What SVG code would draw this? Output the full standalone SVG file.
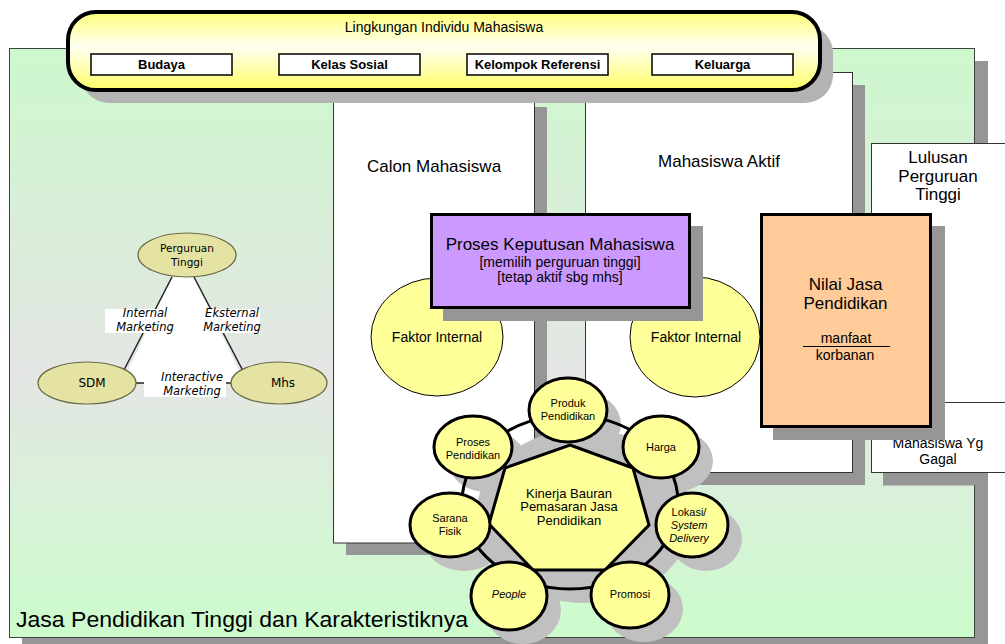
<svg xmlns="http://www.w3.org/2000/svg" width="1005" height="644" viewBox="0 0 1005 644">
<defs>
<linearGradient id="gbg" x1="0" y1="0" x2="0" y2="1">
<stop offset="0" stop-color="#cdf8cd"/><stop offset="0.55" stop-color="#e4e6e4"/><stop offset="1" stop-color="#ccfccc"/>
</linearGradient>
<linearGradient id="gyel" x1="0" y1="0" x2="0" y2="1">
<stop offset="0" stop-color="#ffff7a"/><stop offset="0.45" stop-color="#fffff2"/><stop offset="1" stop-color="#ffff66"/>
</linearGradient>
<style>
.t{font-family:"Liberation Sans",Arial,sans-serif;fill:#000;text-anchor:middle}
.v{font-family:"DejaVu Sans",Verdana,sans-serif;fill:#000;text-anchor:middle}
.sh{fill:#969696}
.csh{fill:#c0c0c0}
.box{fill:#fff;stroke:#333;stroke-width:1}
.sub{fill:#fff;stroke:#000;stroke-width:1.5}
.node{fill:#ffff99;stroke:#000;stroke-width:3}
.tri{fill:#e5e3a3;stroke:#6b6b45;stroke-width:1.2}
.ln{stroke:#222;stroke-width:1.5;fill:none}
</style>
</defs>

<g id="background">
<rect class="sh" x="22" y="61" width="966" height="590"/>
<rect x="9.5" y="48.5" width="965" height="589" fill="url(#gbg)" stroke="#404040" stroke-width="1"/>
<text class="t" x="16" y="627" font-size="22" text-anchor="start" style="text-anchor:start" textLength="452" lengthAdjust="spacingAndGlyphs">Jasa Pendidikan Tinggi dan Karakteristiknya</text>
</g>

<g id="calon-mahasiswa">
<rect class="sh" x="346" y="107" width="201" height="448"/>
<rect class="box" x="333.5" y="94" width="201" height="449"/>
<text class="t" x="434" y="172" font-size="17">Calon Mahasiswa</text>
</g>

<g id="mahasiswa-aktif">
<rect class="sh" x="598" y="85" width="267" height="400"/>
<rect class="box" x="585.5" y="72.5" width="267" height="400"/>
<text class="t" x="719" y="167" font-size="17">Mahasiswa Aktif</text>
</g>

<g id="lulusan">
<rect class="box" x="871.5" y="143.5" width="150" height="259"/>
<text class="t" x="938" y="163" font-size="17">Lulusan</text>
<text class="t" x="938" y="182" font-size="17">Perguruan</text>
<text class="t" x="938" y="200" font-size="17">Tinggi</text>
</g>

<g id="mahasiswa-gagal">
<rect class="sh" x="883" y="472.5" width="105" height="13"/>
<rect class="box" x="871.5" y="402.5" width="150" height="70"/>
<text class="t" x="938" y="448" font-size="14">Mahasiswa Yg</text>
<text class="t" x="938" y="464" font-size="14">Gagal</text>
</g>

<g id="lingkungan">
<rect x="81" y="25" width="752" height="78" rx="28" fill="#b3b3b3"/>
<rect x="68" y="12" width="752" height="78" rx="28" fill="url(#gyel)" stroke="#000" stroke-width="4"/>
<text class="t" x="444" y="32" font-size="14">Lingkungan Individu Mahasiswa</text>
<rect class="sub" x="91" y="54" width="141" height="21"/>
<text class="t" x="161.5" y="69" font-size="13" font-weight="bold">Budaya</text>
<rect class="sub" x="279" y="54" width="141" height="21"/>
<text class="t" x="349.5" y="69" font-size="13" font-weight="bold">Kelas Sosial</text>
<rect class="sub" x="467" y="54" width="141" height="21"/>
<text class="t" x="537.5" y="69" font-size="13" font-weight="bold">Kelompok Referensi</text>
<rect class="sub" x="652" y="54" width="141" height="21"/>
<text class="t" x="722.5" y="69" font-size="13" font-weight="bold">Keluarga</text>
</g>

<g id="connectors">
<polygon points="172,277 194,277 245,383 122,383" fill="#fff"/>
<line class="ln" x1="172" y1="277" x2="124" y2="370"/>
<line class="ln" x1="194" y1="277" x2="242" y2="369"/>
<line class="ln" x1="136" y1="383" x2="231" y2="383"/>
</g>

<g id="perguruan-tinggi">
<ellipse class="tri" cx="187" cy="255" rx="49" ry="22"/>
<text class="v" x="187" y="252" font-size="10.5">Perguruan</text>
<text class="v" x="187" y="266" font-size="10.5">Tinggi</text>
</g>
<g id="sdm">
<ellipse class="tri" cx="87" cy="383" rx="49" ry="21"/>
<text class="v" x="92" y="387" font-size="12">SDM</text>
</g>
<g id="mhs">
<ellipse class="tri" cx="279" cy="383" rx="48" ry="21"/>
<text class="v" x="283" y="387" font-size="12">Mhs</text>
</g>
<g id="label-internal">
<rect x="105" y="309" width="70" height="24" fill="#fff"/>
<text class="v" x="145" y="317" font-size="11.5" font-style="italic">Internal</text>
<text class="v" x="145" y="331" font-size="11.5" font-style="italic">Marketing</text>
</g>
<g id="label-eksternal">
<rect x="204" y="309" width="56" height="24" fill="#fff"/>
<text class="v" x="232" y="317" font-size="11.5" font-style="italic">Eksternal</text>
<text class="v" x="232" y="331" font-size="11.5" font-style="italic">Marketing</text>
</g>
<g id="label-interactive">
<rect x="144" y="372" width="82" height="25" fill="#fff"/>
<text class="v" x="192" y="381" font-size="11.5" font-style="italic">Interactive</text>
<text class="v" x="192" y="395" font-size="11.5" font-style="italic">Marketing</text>
</g>

<g id="faktor-internal-1">
<ellipse cx="437" cy="337" rx="66" ry="59" fill="#ffff99" stroke="#000" stroke-width="1"/>
<text class="t" x="437" y="342" font-size="14">Faktor Internal</text>
</g>
<g id="faktor-internal-2">
<ellipse cx="695" cy="337" rx="65" ry="60" fill="#ffff99" stroke="#000" stroke-width="1"/>
<text class="t" x="696" y="342" font-size="14">Faktor Internal</text>
</g>

<g id="proses-keputusan">
<rect class="sh" x="443" y="226" width="260" height="95"/>
<rect x="431.5" y="214.5" width="258" height="93" fill="#cc99ff" stroke="#000" stroke-width="3"/>
<text class="t" x="560" y="250" font-size="17">Proses Keputusan Mahasiswa</text>
<text class="t" x="560" y="267" font-size="14">[memilih perguruan tinggi]</text>
<text class="t" x="560" y="282" font-size="14">[tetap aktif sbg mhs]</text>
</g>

<g id="nilai-jasa">
<rect class="sh" x="773" y="226" width="172" height="214"/>
<rect x="761.5" y="214.5" width="169" height="212" fill="#ffcc99" stroke="#000" stroke-width="3"/>
<text class="t" x="845.5" y="290" font-size="17">Nilai Jasa</text>
<text class="t" x="845.5" y="309" font-size="17">Pendidikan</text>
<text class="t" x="846" y="343" font-size="14">manfaat</text>
<line x1="803" y1="346.5" x2="890" y2="346.5" stroke="#000" stroke-width="1"/>
<text class="t" x="845" y="360" font-size="14">korbanan</text>
</g>

<g id="bauran-shadows">
<ellipse class="csh" cx="584" cy="516" rx="108" ry="87"/>
<polygon class="csh" points="584,459 647,482 663,539 619,584 547,584 503,538 519,482"/>
<ellipse class="csh" cx="582" cy="424" rx="39" ry="32"/>
<ellipse class="csh" cx="675" cy="461" rx="38" ry="31"/>
<ellipse class="csh" cx="706" cy="539" rx="36" ry="32"/>
<ellipse class="csh" cx="644" cy="609" rx="39" ry="33"/>
<ellipse class="csh" cx="523" cy="610" rx="38" ry="34"/>
<ellipse class="csh" cx="464" cy="539" rx="40" ry="32"/>
<ellipse class="csh" cx="487" cy="461" rx="39" ry="31"/>
</g>
<g id="ring">
<ellipse cx="570" cy="502" rx="108" ry="87" fill="none" stroke="#000" stroke-width="3"/>
</g>
<g id="kinerja-bauran">
<polygon class="node" points="570,445 633,468 649,525 605,570 533,570 489,524 505,468"/>
<text class="t" x="569" y="498" font-size="13">Kinerja Bauran</text>
<text class="t" x="569" y="511" font-size="13">Pemasaran Jasa</text>
<text class="t" x="569" y="525" font-size="13">Pendidikan</text>
</g>
<g id="produk">
<ellipse class="node" cx="568" cy="410" rx="39" ry="32"/>
<text class="t" x="568" y="407" font-size="11">Produk</text>
<text class="t" x="568" y="420" font-size="11">Pendidikan</text>
</g>
<g id="harga">
<ellipse class="node" cx="661" cy="447" rx="38" ry="31"/>
<text class="t" x="661" y="451" font-size="11">Harga</text>
</g>
<g id="lokasi">
<ellipse class="node" cx="692" cy="525" rx="36" ry="32"/>
<text class="t" x="689" y="516" font-size="11">Lokasi/</text>
<text class="t" x="689" y="529" font-size="11" font-style="italic">System</text>
<text class="t" x="689" y="542" font-size="11" font-style="italic">Delivery</text>
</g>
<g id="promosi">
<ellipse class="node" cx="630" cy="595" rx="39" ry="33"/>
<text class="t" x="630" y="598" font-size="11">Promosi</text>
</g>
<g id="people">
<ellipse class="node" cx="509" cy="596" rx="38" ry="34"/>
<text class="t" x="509" y="598" font-size="11" font-style="italic">People</text>
</g>
<g id="sarana">
<ellipse class="node" cx="450" cy="525" rx="40" ry="32"/>
<text class="t" x="450" y="522" font-size="11">Sarana</text>
<text class="t" x="450" y="535" font-size="11">Fisik</text>
</g>
<g id="proses-pendidikan">
<ellipse class="node" cx="473" cy="447" rx="39" ry="31"/>
<text class="t" x="473" y="446" font-size="11">Proses</text>
<text class="t" x="473" y="459" font-size="11">Pendidikan</text>
</g>
</svg>
